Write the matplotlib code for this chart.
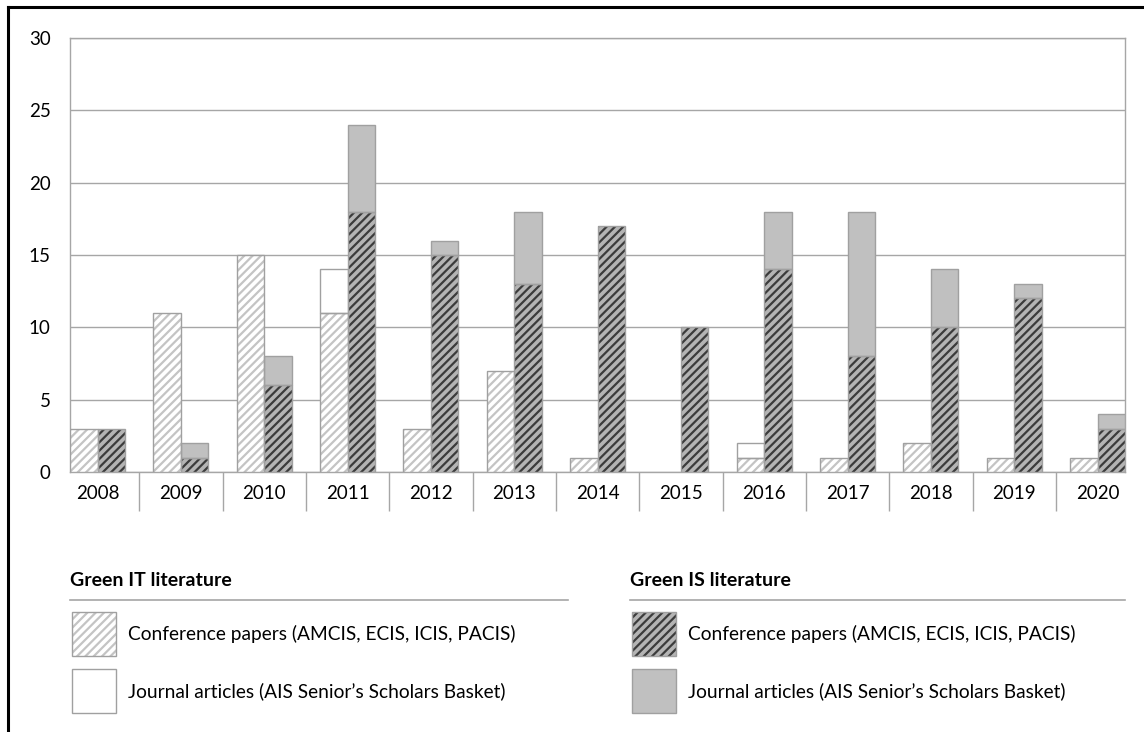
import matplotlib
matplotlib.use("Agg")
import matplotlib.pyplot as plt
from matplotlib.patches import Rectangle
from matplotlib.lines import Line2D
import numpy as np

years = ["2008", "2009", "2010", "2011", "2012", "2013", "2014",
         "2015", "2016", "2017", "2018", "2019", "2020"]
it_conf = [3, 11, 15, 11, 3, 7, 1, 0, 1, 1, 2, 1, 1]
it_jour = [0, 0, 0, 3, 0, 0, 0, 0, 1, 0, 0, 0, 0]
is_conf = [3, 1, 6, 18, 15, 13, 17, 10, 14, 8, 10, 12, 3]
is_jour = [0, 1, 2, 6, 1, 5, 0, 0, 4, 10, 4, 1, 1]

legend_titles = ["Green IT literature", "Green IS literature"]
conf_label = "Conference papers (AMCIS, ECIS, ICIS, PACIS)"
jour_label = "Journal articles (AIS Senior\u2019s Scholars Basket)"

plt.rcParams["font.family"] = ["Lato", "DejaVu Sans"]
plt.rcParams["hatch.linewidth"] = 1.6

W, H = 1144, 732
GRID = "#a6a6a6"
EDGE = "#a0a0a0"

fig = plt.figure(figsize=(W / 100, H / 100), dpi=100)
ax = fig.add_axes([70 / W, 1 - 472 / H, (1125 - 70) / W, (472 - 38) / H])

x = np.arange(len(years))
bw = 0.33


def edges(values):
    # no outline for empty segments
    return [EDGE if v > 0 else "none" for v in values]


def hatched_bar(xpos, heights, face, hatch_col):
    # hatch colour follows the edge colour, so draw the outline separately
    ax.bar(xpos, heights, bw, color=face, edgecolor=hatch_col,
           hatch="////", linewidth=0, zorder=3)
    ax.bar(xpos, heights, bw, fill=False, edgecolor=edges(heights),
           linewidth=1, zorder=4)


hatched_bar(x - bw / 2, it_conf, "white", "#c4c4c4")
ax.bar(x - bw / 2, it_jour, bw, bottom=it_conf, color="white",
       edgecolor=edges(it_jour), linewidth=1, zorder=3)
hatched_bar(x + bw / 2, is_conf, "#b4b4b4", "#3c3c3c")
ax.bar(x + bw / 2, is_jour, bw, bottom=is_conf, color="#c0c0c0",
       edgecolor=edges(is_jour), linewidth=1, zorder=3)

ax.set_xlim(-bw, len(years) - 1 + bw)
ax.set_ylim(0, 30)
ax.set_yticks(range(0, 31, 5))
ax.yaxis.grid(True, color=GRID, linewidth=1)
ax.set_axisbelow(True)
ax.tick_params(axis="y", length=0, pad=14, labelsize=13.5)

ax.set_xticks(x)
ax.set_xticklabels(years)
ax.set_xticks(x[:-1] + 0.5, minor=True)
ax.tick_params(axis="x", which="major", length=0, pad=9, labelsize=13.5)
ax.tick_params(axis="x", which="minor", length=28, width=1, color=GRID,
               direction="out")
for s in ax.spines.values():
    s.set_color(GRID)
    s.set_linewidth(1)

# legend block drawn in pixel space below the chart
lax = fig.add_axes([0, 0, 1, 1])
lax.set_xlim(0, W)
lax.set_ylim(H, 0)
lax.axis("off")

groups = [
    (70, 568, ("white", "#c4c4c4"), "white"),
    (630, 1125, ("#b4b4b4", "#3c3c3c"), "#c0c0c0"),
]
for (x0, x1, (face, hcol), jface), title in zip(groups, legend_titles):
    lax.text(x0, 581, title, fontsize=14, fontweight="bold", va="center")
    lax.plot([x0, x1], [600, 600], color=GRID, linewidth=1.2)
    lax.add_patch(Rectangle((x0 + 2, 612), 44, 44, facecolor=face,
                            edgecolor=hcol, hatch="////", linewidth=0))
    lax.add_patch(Rectangle((x0 + 2, 612), 44, 44, fill=False,
                            edgecolor=EDGE, linewidth=1))
    lax.text(x0 + 58, 634, conf_label, fontsize=13.8, va="center")
    lax.add_patch(Rectangle((x0 + 2, 669), 44, 44, facecolor=jface,
                            edgecolor=EDGE, linewidth=1))
    lax.text(x0 + 58, 691, jour_label, fontsize=13.8, va="center")

# outer frame (top and left edges visible)
fig.add_artist(Line2D([8 / W, 1], [1 - 7 / H, 1 - 7 / H], color="black",
                      linewidth=2.2, transform=fig.transFigure))
fig.add_artist(Line2D([8 / W, 8 / W], [0, 1 - 7 / H], color="black",
                      linewidth=2.2, transform=fig.transFigure))

fig.savefig("out.png", dpi=100, facecolor="white")
